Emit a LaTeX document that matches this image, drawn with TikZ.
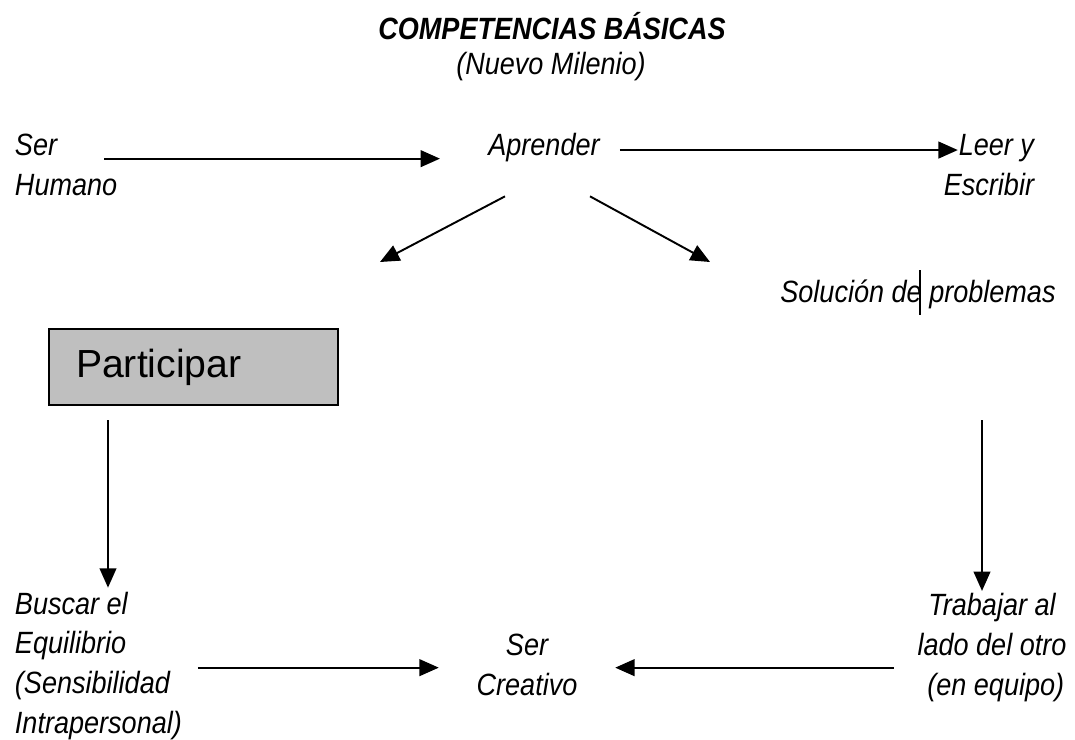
\documentclass[tikz,border=0pt]{standalone}
\usepackage{fontspec}
\setmainfont{Liberation Sans}
\newfontfamily\narrowsf{Liberation Sans}[FakeStretch=0.88]
\usetikzlibrary{arrows.meta}
\begin{document}
\begin{tikzpicture}[x=0.02cm,y=-0.02cm,line width=1.1pt,>={Triangle[length=11pt,width=9.5pt]},
    txt/.style={font=\narrowsf\itshape\fontsize{17.5}{22.5}\selectfont,inner sep=0pt},
    caja/.style={draw,fill=black!25,line width=1.2pt,font=\fontsize{22.3}{26}\selectfont,
      minimum height=1.52cm,text width=4.7cm,inner xsep=0.54cm,align=left}]
  \useasboundingbox (0,0) rectangle (1075,740);
  % titulo
  \node[txt,font=\narrowsf\bfseries\itshape\fontsize{17.5}{22.5}\selectfont,anchor=base](titulo) at (552,40){COMPETENCIAS BÁSICAS};
  \node[txt,anchor=base](milenio) at (551,75){(Nuevo Milenio)};
  % fila de arriba
  \node[txt,anchor=base west,align=left](humano) at (14,195){Ser\\Humano};
  \node[txt,anchor=base](aprender) at (544,155){Aprender};
  \node[txt,anchor=base east,align=right](leer) at (1035,195){Leer y\\Escribir};
  \coordinate (izq) at (380,262);
  \coordinate (der) at (710,262);
  \node[txt,anchor=base](solucion) at (918,302){Solución de problemas};
  \draw[line width=0.6pt] (solucion.north) ++(2,-8) -- ++(0,45);
  \node[caja,anchor=north west](participar) at (48,328){Participar};
  % fila de abajo
  \node[txt,anchor=base west,align=left](buscar) at (14,733){Buscar el\\Equilibrio\\(Sensibilidad\\Intrapersonal)};
  \node[txt,anchor=base,align=center](creativo) at (527,695){Ser\\Creativo};
  \node[txt,anchor=base,align=center](trabajar) at (992,695){Trabajar al\\lado del otro\\\ (en equipo)};
  % flechas
  \coordinate (h1) at ([shift={(0,-6)}]humano.east);
  \coordinate (a1) at ([shift={(0,3)}]aprender.east);
  \coordinate (p1) at ([shift={(60,0)}]participar.south west);
  \coordinate (s1) at ([shift={(64,0)}]solucion.south);
  \coordinate (c1) at ([shift={(0,3)}]creativo.west);
  \coordinate (c2) at ([shift={(0,3)}]creativo.east);
  \draw[->,shorten <=-8pt,shorten >=27pt] (h1) -- (h1 -| aprender.west);
  \draw[->,shorten <=11pt,shorten >=-8.5pt] (a1) -- (a1 -| leer.west);
  \draw[->] ([shift={(-39,34)}]aprender.south) -- (izq);
  \draw[->] ([shift={(46,34)}]aprender.south) -- (der);
  \draw[->,shorten <=8pt,shorten >=2pt] (p1) -- (p1 |- buscar.north);
  \draw[->,shorten <=63pt,shorten >=1pt] (s1) -- (s1 |- trabajar.north);
  \draw[->,shorten <=8.5pt,shorten >=21pt] (c1 -| buscar.east) -- (c1);
  \draw[->,shorten <=13pt,shorten >=21pt] (c2 -| trabajar.west) -- (c2);
\end{tikzpicture}
\end{document}
